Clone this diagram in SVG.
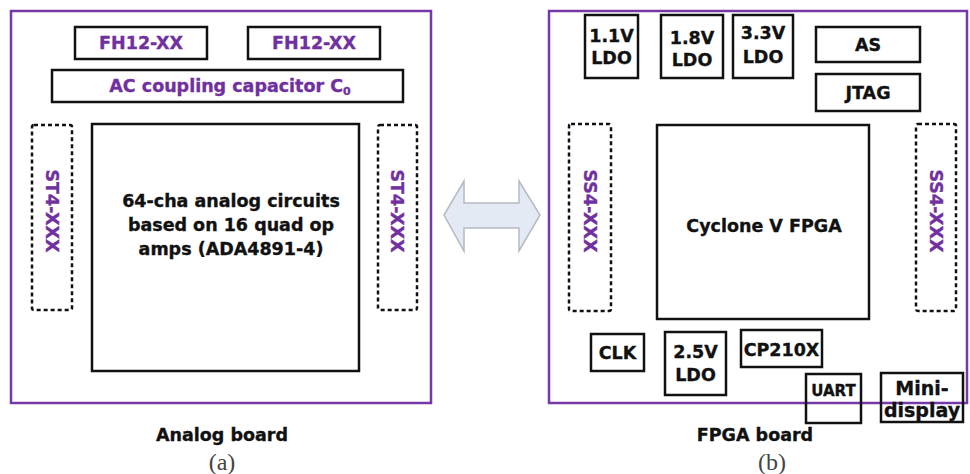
<svg xmlns="http://www.w3.org/2000/svg" width="970" height="474" viewBox="0 0 970 474">
<style>
.board{fill:none;stroke:#7638a8;stroke-width:2.5}
.box{fill:#fff;stroke:#111;stroke-width:2.5}
.dash{fill:none;stroke:#111;stroke-width:2.5;stroke-dasharray:4 3}
.t{font-family:"DejaVu Sans",Verdana,sans-serif;font-weight:bold;font-size:17.5px;text-anchor:middle;fill:#111;stroke:#111;stroke-width:0.35}
.p{fill:#7030a0;stroke:#7030a0}
.cap{font-family:"Liberation Serif","Times New Roman",serif;font-size:24px;text-anchor:middle;fill:#444}
</style>
<rect width="970" height="474" fill="#fff"/>
<g id="analog-board">
<rect class="board" x="11" y="11" width="420" height="392"/>
</g>
<g id="fh12-1"><rect class="box" x="75" y="27" width="132" height="32"/><text class="t p" x="141" y="49">FH12-XX</text></g>
<g id="fh12-2"><rect class="box" x="248" y="27" width="132" height="32"/><text class="t p" x="314" y="49">FH12-XX</text></g>
<g id="ac-cap"><rect class="box" x="52" y="70" width="351" height="32"/><text class="t p" x="230" y="92">AC coupling capacitor C<tspan font-size="11" dy="3">0</tspan></text></g>
<g id="st4-left"><rect class="dash" x="32" y="125" width="40" height="185" rx="2"/><text class="t p" transform="translate(52,211) rotate(90)" y="6">ST4-XXX</text></g>
<g id="analog-circuits"><rect class="box" x="92" y="124" width="267" height="247"/>
<text class="t" x="231" y="207">64-cha analog circuits</text>
<text class="t" x="231" y="231">based on 16 quad op</text>
<text class="t" x="231" y="255">amps (ADA4891-4)</text></g>
<g id="st4-right"><rect class="dash" x="378" y="125" width="39" height="185" rx="2"/><text class="t p" transform="translate(397,211) rotate(90)" y="6">ST4-XXX</text></g>
<g id="analog-label"><text class="t" x="222" y="441">Analog board</text><text class="cap" x="222" y="470">(a)</text></g>

<g id="connectors">
<polygon points="444,215 464,181 464,203 519,203 519,181 540,215 519,251 519,228 464,228 464,251" fill="#e4eaf4" stroke="#b5b9c2" stroke-width="1.5"/>
</g>

<g id="fpga-board">
<rect class="board" x="549" y="11" width="418" height="392"/>
</g>
<g id="ldo-11"><rect class="box" x="585" y="15" width="53" height="63"/><text class="t" x="611.5" y="42">1.1V</text><text class="t" x="611.5" y="64">LDO</text></g>
<g id="ldo-18"><rect class="box" x="661" y="15" width="62" height="63"/><text class="t" x="692" y="44">1.8V</text><text class="t" x="692" y="66">LDO</text></g>
<g id="ldo-33"><rect class="box" x="733" y="15" width="60" height="63"/><text class="t" x="763" y="39">3.3V</text><text class="t" x="763" y="63">LDO</text></g>
<g id="as"><rect class="box" x="816" y="27" width="104" height="35"/><text class="t" x="868" y="51">AS</text></g>
<g id="jtag"><rect class="box" x="816" y="74" width="104" height="37"/><text class="t" x="868" y="99">JTAG</text></g>
<g id="ss4-left"><rect class="dash" x="569" y="124" width="42" height="187" rx="2"/><text class="t p" transform="translate(590,211) rotate(90)" y="6">SS4-XXX</text></g>
<g id="fpga"><rect class="box" x="657" y="125" width="212" height="194"/><text class="t" x="764" y="232">Cyclone V FPGA</text></g>
<g id="ss4-right"><rect class="dash" x="916" y="124" width="40" height="187" rx="2"/><text class="t p" transform="translate(936,211) rotate(90)" y="6">SS4-XXX</text></g>
<g id="clk"><rect class="box" x="591" y="334" width="53" height="37"/><text class="t" x="617.5" y="359">CLK</text></g>
<g id="ldo-25"><rect class="box" x="665" y="332" width="61" height="63"/><text class="t" x="695.5" y="358">2.5V</text><text class="t" x="695.5" y="381">LDO</text></g>
<g id="cp210x"><rect class="box" x="741" y="330" width="81" height="37"/><text class="t" x="781.5" y="356">CP210X</text></g>
<g id="uart"><rect class="box" x="806" y="374" width="55" height="49" style="fill:none"/><text class="t" x="833.5" y="396" style="font-size:15px">UART</text></g>
<g id="mini-display"><rect class="box" x="881" y="373" width="82" height="49" style="fill:none"/><text class="t" x="922" y="395" style="font-size:19px">Mini-</text><text class="t" x="922" y="417" style="font-size:19px">display</text></g>
<g id="fpga-label"><text class="t" x="755" y="441">FPGA board</text><text class="cap" x="772" y="470">(b)</text></g>
</svg>
